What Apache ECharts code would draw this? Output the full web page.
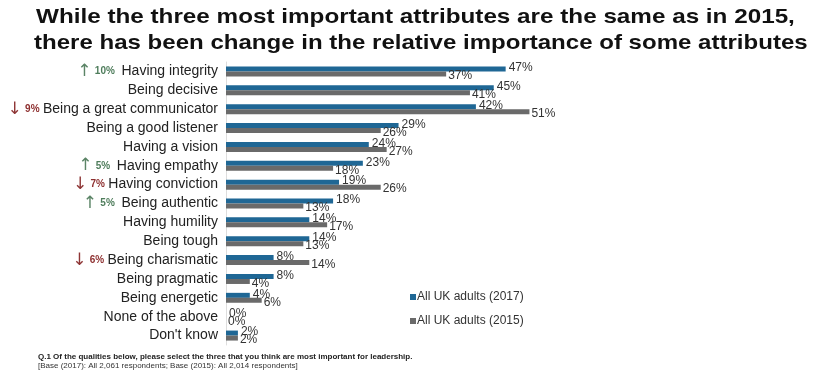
<!DOCTYPE html>
<html lang="en">
<head>
<meta charset="UTF-8">
<title>Leadership attributes</title>
<script src="https://cdn.jsdelivr.net/npm/echarts@6/dist/echarts.min.js"></script>
<style>
html,body{margin:0;padding:0;background:#fff;}
#chartBox{width:820px;height:377px;}
</style>
</head>
<body>
<div id="chartBox"></div>
<script>
// categories, top to bottom
let categories = ['Having integrity', 'Being decisive', 'Being a great communicator', 'Being a good listener',
    'Having a vision', 'Having empathy', 'Having conviction', 'Being authentic', 'Having humility',
    'Being tough', 'Being charismatic', 'Being pragmatic', 'Being energetic', 'None of the above', "Don't know"];
let values2017 = [47, 45, 42, 29, 24, 23, 19, 18, 14, 14, 8, 8, 4, 0, 2];
let values2015 = [37, 41, 51, 26, 27, 18, 26, 13, 17, 13, 14, 4, 6, 0, 2];
// change in importance vs 2015 (0 = not marked)
let changes = [10, 0, -9, 0, 0, 5, -7, 5, 0, 0, -6, 0, 0, 0, 0];

let seriesNames = ['All UK adults (2017)', 'All UK adults (2015)'];
let titleLines = ['While the three most important attributes are the same as in 2015,',
    'there has been change in the relative importance of some attributes'];
const BLUE = '#1f6795';
const GREY = '#6a6a6a';

// 类目标签，带变化箭头
function categoryLabel(value, index) {
    let c = changes[index];
    if (c > 0) return '{up|↑} {gp|' + c + '%}  {n|' + value + '}';
    if (c < 0) return '{dn|↓} {rp|' + Math.abs(c) + '%} {n|' + value + '}';
    return '{n|' + value + '}';
}

let chartObj = echarts.init(document.getElementById('chartBox'));
let option = {
    animation: false,
    title: [
        {
            text: 'Q.1 Of the qualities below, please select the three that you think are most important for leadership.',
            left: 33, top: 348,
            textStyle: {fontSize: 8, fontWeight: 'bold', color: '#222', fontFamily: 'Liberation Sans'}
        },
        {
            text: '[Base (2017): All 2,061 respondents; Base (2015): All 2,014 respondents]',
            left: 33, top: 357,
            textStyle: {fontSize: 8, fontWeight: 'normal', color: '#333', fontFamily: 'Liberation Sans'}
        }
    ],
    graphic: [
        {
            type: 'text', x: 36, y: 7, scaleX: 1.155,
            style: {text: titleLines[0], font: 'bold 21px "Liberation Sans"', fill: '#111'}
        },
        {
            type: 'text', x: 34, y: 33, scaleX: 1.145,
            style: {text: titleLines[1], font: 'bold 21px "Liberation Sans"', fill: '#111'}
        }
    ],
    grid: {left: 226, top: 62, width: 357, height: 283},
    xAxis: {
        type: 'value', min: 0, max: 60,
        show: false
    },
    yAxis: {
        type: 'category',
        data: categories,
        inverse: true,
        axisLine: {show: true, lineStyle: {color: '#ddd', width: 1}},
        axisTick: {show: false},
        axisLabel: {
            margin: 8,
            formatter: categoryLabel,
            rich: {
                n: {fontSize: 14, color: '#222', fontFamily: 'Liberation Sans'},
                up: {fontSize: 17, color: '#5b8466', fontFamily: 'DejaVu Sans'},
                dn: {fontSize: 17, color: '#8e3535', fontFamily: 'DejaVu Sans'},
                gp: {fontSize: 10, fontWeight: 'bold', color: '#4f7d5c', fontFamily: 'Liberation Sans'},
                rp: {fontSize: 10, fontWeight: 'bold', color: '#8e3030', fontFamily: 'Liberation Sans'}
            }
        }
    },
    legend: {
        orient: 'vertical',
        left: 405, top: 286,
        itemWidth: 6, itemHeight: 6, itemGap: 12,
        icon: 'rect',
        textStyle: {fontSize: 12, color: '#333', fontFamily: 'Liberation Sans', padding: [0, 0, 0, -4]},
        data: seriesNames
    },
    series: [
        {
            type: 'bar', name: seriesNames[0],
            data: values2017,
            barWidth: 5, barGap: '0%',
            itemStyle: {color: BLUE},
            label: {show: true, position: 'right', distance: 3, formatter: '{c}%',
                fontSize: 12, color: '#333', fontFamily: 'Liberation Sans', offset: [0, -1]}
        },
        {
            type: 'bar', name: seriesNames[1],
            data: values2015,
            barWidth: 5, barGap: '0%',
            itemStyle: {color: GREY},
            label: {show: true, position: 'right', distance: 2, formatter: '{c}%',
                fontSize: 12, color: '#333', fontFamily: 'Liberation Sans', offset: [0, 2]}
        }
    ]
};
chartObj.setOption(option);
</script>
</body>
</html>
